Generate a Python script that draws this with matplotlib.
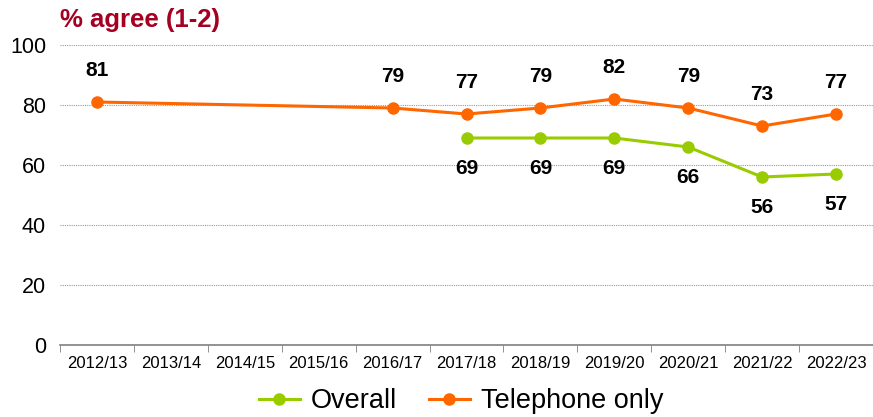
import numpy as np
import matplotlib
matplotlib.use('Agg')
import matplotlib.pyplot as plt

plt.rcParams['font.family'] = ['Liberation Sans', 'DejaVu Sans']

years = ['2012/13', '2013/14', '2014/15', '2015/16', '2016/17', '2017/18',
         '2018/19', '2019/20', '2020/21', '2021/22', '2022/23']
overall = [np.nan, np.nan, np.nan, np.nan, np.nan, 69, 69, 69, 66, 56, 57]
telephone = [81, np.nan, np.nan, np.nan, 79, 77, 79, 82, 79, 73, 77]

green = '#99CC00'
orange = '#FF6600'

fig = plt.figure(figsize=(8.73, 4.17), dpi=100)
ax = fig.add_axes([60 / 873, 1 - 345 / 417, 813 / 873, 300 / 417])

x = np.arange(len(years))
ov = np.array(overall, dtype=float)
tel = np.array(telephone, dtype=float)
mo = ~np.isnan(ov)
mt = ~np.isnan(tel)

ax.plot(x[mo], ov[mo], color=green, lw=2.2, marker='o', ms=8, label='Overall', zorder=3)
ax.plot(x[mt], tel[mt], color=orange, lw=2.2, marker='o', ms=8, label='Telephone only', zorder=3)

# étiquettes de valeurs : au-dessus pour le téléphone, en dessous pour l'ensemble
for xi, v in zip(x[mt], tel[mt]):
    ax.annotate(f'{v:.0f}', (xi, v), xytext=(0, 23), textcoords='offset points',
                ha='center', va='center', fontsize=15, fontweight='bold')
for xi, v in zip(x[mo], ov[mo]):
    ax.annotate(f'{v:.0f}', (xi, v), xytext=(0, -22), textcoords='offset points',
                ha='center', va='center', fontsize=15, fontweight='bold')

ax.set_ylim(0, 100)
ax.set_yticks(range(0, 101, 20))
ax.set_xlim(-0.5, -0.5 + 813 / 74.4)
ax.set_xticks(x)
ax.set_xticklabels(years, fontsize=12)
ax.set_xticks(np.arange(-0.5, len(years), 1), minor=True)
ax.tick_params(axis='x', which='major', length=0, pad=8)
ax.tick_params(axis='x', which='minor', length=5, color='#808080', direction='out')
ax.tick_params(axis='y', length=0, labelsize=15.5, pad=10)

ax.grid(axis='y', color='#999999', linestyle=(0, (1, 1)), lw=0.8)
ax.set_axisbelow(True)
for s in ['top', 'right', 'left']:
    ax.spines[s].set_visible(False)
ax.spines['bottom'].set_color('#808080')
ax.spines['bottom'].set_linewidth(1.2)

fig.text(60 / 873, 1 - 20 / 417, '% agree (1-2)', color='#A50021',
         fontsize=18.5, fontweight='bold', ha='left', va='center')

fig.legend(loc='center', bbox_to_anchor=(461 / 873, 1 - 401 / 417), ncol=2,
           frameon=False, fontsize=19.5, handlelength=1.5, columnspacing=1.2,
           handletextpad=0.4)

fig.savefig('out.png', dpi=100)
